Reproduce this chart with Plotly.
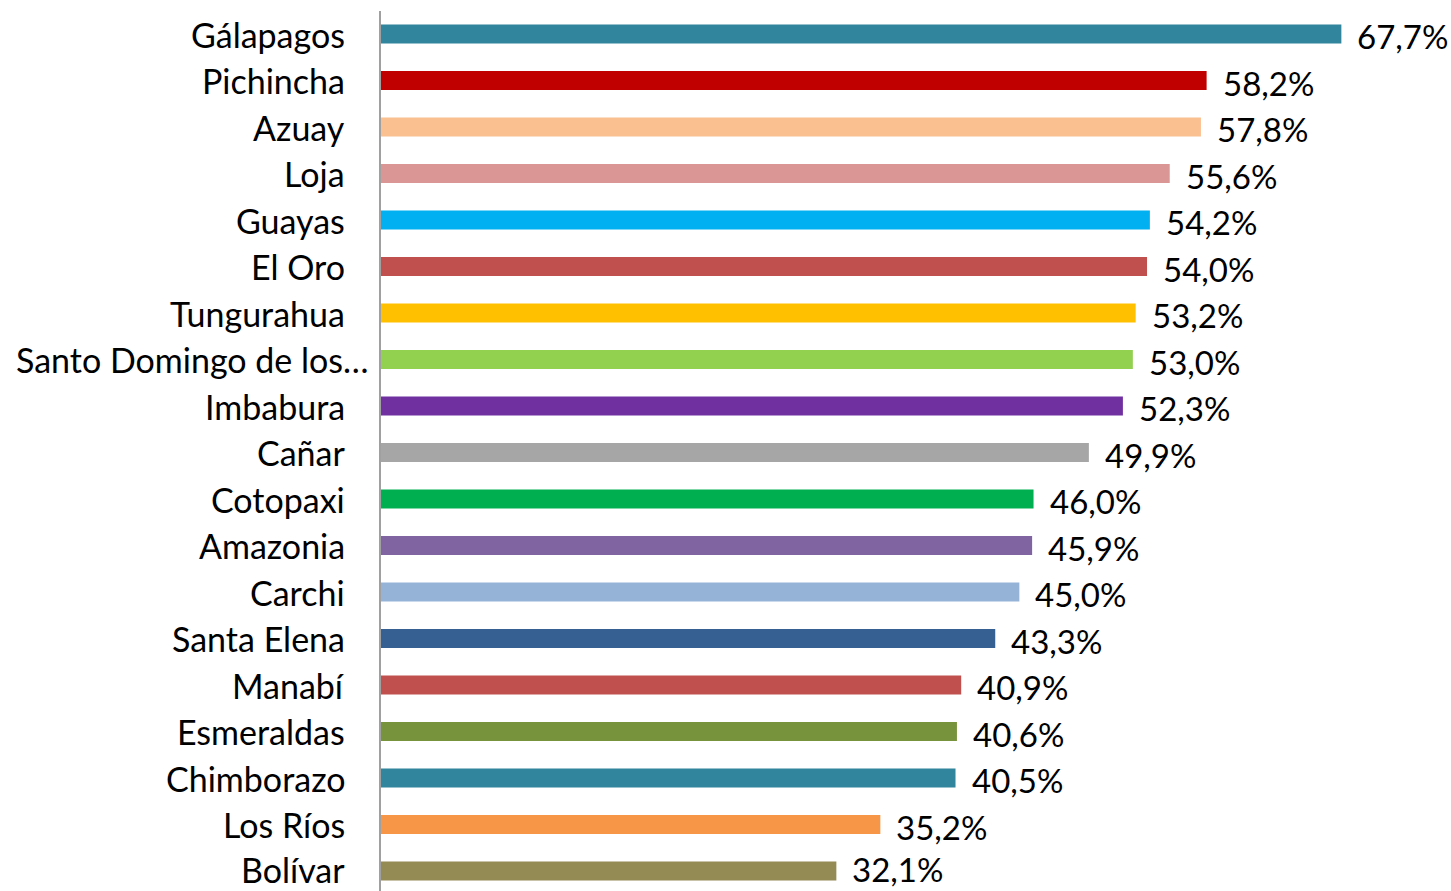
import plotly.graph_objects as go

provincias = ["Gálapagos", "Pichincha", "Azuay", "Loja", "Guayas", "El Oro", "Tungurahua",
              "Santo Domingo de los…", "Imbabura", "Cañar", "Cotopaxi", "Amazonia", "Carchi",
              "Santa Elena", "Manabí", "Esmeraldas", "Chimborazo", "Los Ríos", "Bolívar"]
valores = [67.7, 58.2, 57.8, 55.6, 54.2, 54.0, 53.2, 53.0, 52.3, 49.9, 46.0, 45.9, 45.0,
           43.3, 40.9, 40.6, 40.5, 35.2, 32.1]
colores = ["#31859C", "#C00000", "#FAC090", "#D99694", "#00B0F0", "#C0504D", "#FFC000",
           "#92D050", "#7030A0", "#A6A6A6", "#00B050", "#8064A2", "#95B3D7", "#376092",
           "#C0504D", "#77933C", "#31859C", "#F79646", "#948A54"]
etiquetas = [f"{v:.1f}".replace(".", ",") + "%" for v in valores]

FONT = "Lato"

fig = go.Figure(go.Bar(
    x=valores, y=provincias, orientation="h",
    marker=dict(color=colores, line=dict(width=0)),
    width=0.41, hoverinfo="skip",
))

ann = []
n = len(provincias)
for i, (p, v, t) in enumerate(zip(provincias, valores, etiquetas)):
    ann.append(dict(x=v, y=p, xref="x", yref="y", text=t, showarrow=False,
                    xanchor="left", yanchor="middle", xshift=14,
                    yshift=(2 if i == n - 1 else -2),
                    font=dict(family=FONT, size=33, color="#000000")))
    ann.append(dict(x=0, y=p, xref="paper", yref="y", text=p, showarrow=False,
                    xanchor="right", yanchor="middle",
                    xshift=(-10 if p.endswith("…") else -34),
                    yshift=(2 if i == n - 1 else 0),
                    font=dict(family=FONT, size=34, color="#000000")))

fig.update_layout(
    width=1451, height=891,
    margin=dict(l=381, r=77, t=11, b=0),
    paper_bgcolor="white", plot_bgcolor="white",
    showlegend=False,
    annotations=ann,
    xaxis=dict(range=[0, 70], showgrid=False, zeroline=False, showticklabels=False,
               showline=False, fixedrange=True),
    yaxis=dict(type="category", range=[18.43, -0.495], autorange=False,
               showgrid=False, zeroline=False, showticklabels=False,
               showline=True, linecolor="#A0A0A0", linewidth=2, ticks="", fixedrange=True),
    bargap=0.59,
)

fig.write_html("out.html", config={"displayModeBar": False},
               post_script="document.body.style.margin='0';document.body.style.overflow='hidden';")
